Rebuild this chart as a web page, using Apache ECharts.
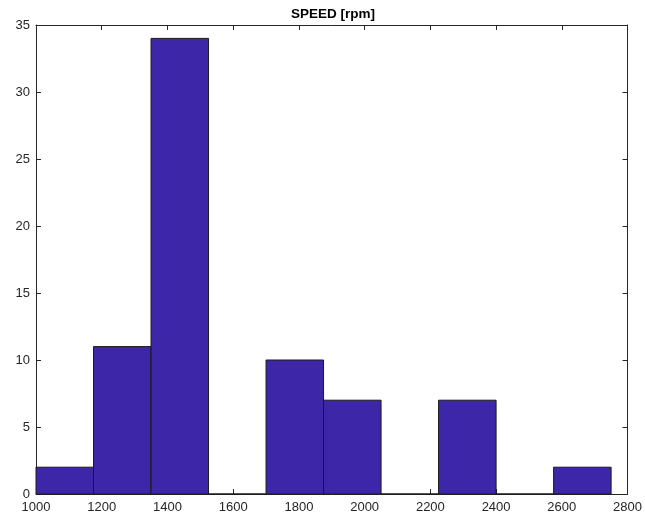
<!DOCTYPE html>
<html>
<head>
<meta charset="utf-8">
<script src="https://cdn.jsdelivr.net/npm/echarts@6/dist/echarts.min.js"></script>
<style>
  html, body { margin: 0; padding: 0; background: #fff; }
  #chart { width: 645px; height: 519px; }
</style>
</head>
<body>
<div id="chart"></div>
<script>
// Histogram of shaft speed: bin edges (rpm) and counts per bin
var binEdges = [1000, 1175, 1350, 1525, 1700, 1875, 2050, 2225, 2400, 2575, 2750];
var counts = [2, 11, 34, 0, 10, 7, 0, 7, 0, 2];
var chartTitle = 'SPEED [rpm]';
var xTicks = { min: 1000, max: 2800, step: 200 };
var yTicks = { min: 0, max: 35, step: 5 };

var bins = counts.map(function (c, i) { return [binEdges[i], binEdges[i + 1], c]; });

var axisColor = '#262626';
var fontFamily = '"Liberation Sans", Arial, Helvetica, sans-serif';

// Value axis drawn as one side of the surrounding box; ticks point inward
function boxAxis(type, position, showLabels, range) {
  return {
    type: 'value',
    position: position,
    min: range.min,
    max: range.max,
    interval: range.step,
    axisLine: { show: true, onZero: false, lineStyle: { color: axisColor, width: 1 } },
    axisTick: { show: true, inside: true, length: 5, lineStyle: { color: axisColor, width: 1 } },
    axisLabel: {
      show: showLabels, color: axisColor, fontSize: 13, fontFamily: fontFamily,
      margin: type === 'x' ? 7 : 6,
      formatter: function (v) { return String(v); }
    },
    splitLine: { show: false }
  };
}

var chart = echarts.init(document.getElementById('chart'), null, { renderer: 'canvas' });
chart.setOption({
  animation: false,
  backgroundColor: '#ffffff',
  title: {
    text: chartTitle,
    left: 333,
    textAlign: 'center',
    top: 7,
    padding: 0,
    textStyle: { fontSize: 13.5, fontWeight: 'bold', color: '#000', fontFamily: fontFamily }
  },
  grid: { left: 36, right: 14, top: 25, bottom: 25, containLabel: false },
  xAxis: [boxAxis('x', 'bottom', true, xTicks), boxAxis('x', 'top', false, xTicks)],
  yAxis: [boxAxis('y', 'left', true, yTicks), boxAxis('y', 'right', false, yTicks)],
  series: [{
    type: 'custom',
    xAxisIndex: 0,
    yAxisIndex: 0,
    data: bins,
    encode: { x: [0, 1], y: 2 },
    renderItem: function (params, api) {
      var p0 = api.coord([api.value(0), api.value(2)]);
      var p1 = api.coord([api.value(1), 0]);
      return {
        type: 'rect',
        shape: { x: p0[0], y: p0[1], width: p1[0] - p0[0], height: p1[1] - p0[1] },
        style: { fill: '#3e26a8', stroke: '#1a1a1a', lineWidth: 1 }
      };
    }
  }]
});
</script>
</body>
</html>
